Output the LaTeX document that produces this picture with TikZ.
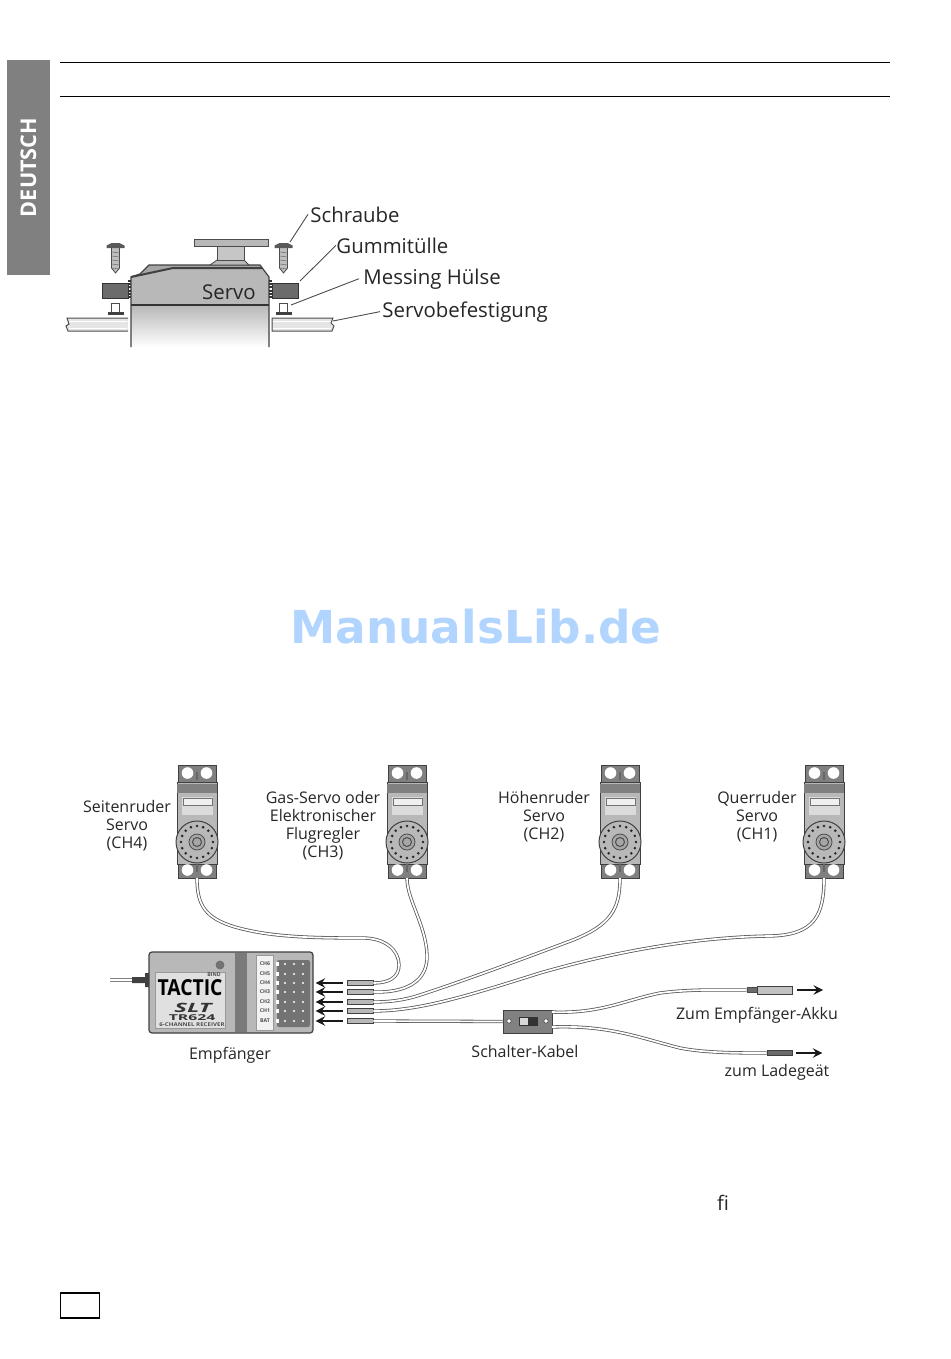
\documentclass[tikz,border=0pt]{standalone}
\usepackage{fontspec}
\setmainfont{Open Sans}
\newfontfamily\markfont{DejaVu Sans}
\usetikzlibrary{arrows,calc,positioning}
\definecolor{bodygrey}{gray}{0.72}
\definecolor{darkgrey}{gray}{0.42}
\definecolor{inkgrey}{gray}{0.15}
\tikzset{%
cablewire/.style={draw=black!65,double=white,double distance=0.85pt,line width=0.4pt},
leader/.style={draw=black!70,line width=0.45pt},
callout/.style={text=inkgrey,font=\fontsize{10.2}{12}\selectfont,inner sep=0pt},
partlabel/.style={text=inkgrey,font=\fontsize{8}{9}\selectfont,inner sep=0pt,align=center},
plugbox/.style={draw=black!75,fill=bodygrey,line width=0.45pt,minimum width=13pt,minimum height=2.9pt,inner sep=0pt},
sigarrow/.style={-stealth,line width=1.1pt,black!90},
tinytext/.style={font=\fontsize{2.6}{3}\selectfont\bfseries,text=black!70,inner sep=0pt}
}
\begin{document}
\begin{tikzpicture}[x=0.5pt,y=-0.5pt]
\useasboundingbox (0,0) rectangle (950,1359);

% page frame
\draw[line width=0.4pt] (60,62) -- (890,62);
\draw[line width=0.4pt] (60,96) -- (890,96);
\node[fill=black!50,minimum width=21.5pt,minimum height=107.5pt,inner sep=0pt] (band) at (28.5,167.5) {};
\node[rotate=90,white,font=\fontsize{10.8}{12}\selectfont\bfseries,inner sep=0pt] (lang) at (band.center) {DEUTSCH};
\node[draw,line width=0.6pt,minimum width=19.5pt,minimum height=12.5pt,inner sep=0pt] (pagebox) at (80,1305.5) {};
\node[text=inkgrey,font=\fontsize{10}{12}\selectfont,inner sep=0pt] (ligature) at (723,1203) {ﬁ};
\node[text=blue!55!cyan!30,font=\markfont\fontsize{22.7}{26}\selectfont\bfseries,inner sep=0pt] (watermark) at (476,627) {ManualsLib.de};

% mounting detail
\fill[top color=bodygrey,bottom color=white] (131,305) rectangle (269,347);
\fill[bodygrey] (131,305) -- (131,277) -- (140,274) -- (149,265) -- (260,265) -- (269,277) -- (269,305) -- cycle;
\fill[black!35] (149,265) -- (260,265) -- (262,268) -- (173,268) -- (141,276) -- cycle;
\draw[black!75,line width=0.6pt] (131,347) -- (131,277) -- (140,274) -- (149,265) -- (260,265) -- (269,277) -- (269,347);
\draw[black!75,line width=1pt] (131,277) -- (173,268) -- (262,268);
\draw[black!80,line width=1pt] (131,305) -- (269,305);
\filldraw[draw=black!70,fill=bodygrey,line width=0.4pt] (210,265) -- (217,260) -- (244,260) -- (249,265) -- cycle;
\filldraw[draw=black!70,fill=bodygrey!80,line width=0.4pt] (217,246) rectangle (244,260);
\filldraw[draw=black!70,fill=bodygrey,line width=0.5pt] (194,239) rectangle (268,246);
\foreach \xx/\ww in {102/128,272/298}{
  \filldraw[draw=black!80,fill=darkgrey,line width=0.5pt] (\xx,283) rectangle (\ww,298);
}
\draw[black!80,line width=1.2pt,dash pattern=on 1pt off 0.6pt] (129.5,280) -- (129.5,298);
\draw[black!80,line width=1.2pt,dash pattern=on 1pt off 0.6pt] (270.5,280) -- (270.5,298);
\foreach \xx in {115.5,283.5}{
  \filldraw[draw=black!70,fill=white,line width=0.5pt] (\xx-4,312) -- (\xx-4,303) -- (\xx+4,303) -- (\xx+4,312);
  \fill[black!75] (\xx-8,312) rectangle (\xx+8,315);
  \filldraw[draw=black!70,fill=black!25,line width=0.4pt] (\xx-4,247) -- (\xx+4,247) -- (\xx+4,268) -- (\xx,273) -- (\xx-4,268) -- cycle;
  \foreach \ty in {252,256,...,268}{
    \draw[black!55,line width=0.3pt] (\xx-4,\ty) -- (\xx+4,\ty+1);
  }
  \fill[black!65] (\xx-9,245.5) -- (\xx-4,243) -- (\xx+4,243) -- (\xx+9,245.5) -- (\xx+9,248) -- (\xx-9,248) -- cycle;
}
\filldraw[draw=black!70,fill=black!10,line width=0.5pt] (128,318) -- (67,318) -- (69,324) -- (66,326) -- (68,331) -- (128,331);
\filldraw[draw=black!70,fill=black!10,line width=0.5pt] (272,318) -- (333,318) -- (331,323) -- (334,326) -- (332,331) -- (272,331) -- cycle;
\draw[white,line width=0.5pt] (69,321) -- (127,321) (69,328) -- (127,328) (273,321) -- (331,321) (273,328) -- (331,328);
\coordinate (screwtip) at (290,242);
\coordinate (grommet) at (300,281);
\coordinate (sleeve) at (291,305);
\coordinate (plate) at (333,321);
\node[text=inkgrey,font=\fontsize{10.2}{12}\selectfont,inner sep=0pt] (servotop) at (229,292) {Servo};
\node[callout,anchor=base west] (schraube) at (310,222) {Schraube};
\node[callout,anchor=base west] (gummi) at (336,253) {Gummitülle};
\node[callout,anchor=base west] (messing) at (363,284) {Messing Hülse};
\node[callout,anchor=base west] (befest) at (382,317) {Servobefestigung};
\draw[leader] ([xshift=-1pt]schraube.west) -- (screwtip);
\draw[leader] (gummi.west) -- (grommet);
\draw[leader] ([xshift=-2pt]messing.west) -- (sleeve);
\draw[leader] ([xshift=-1pt]befest.west) -- (plate);

% servos
\foreach \nm/\xx in {servofour/197,servothree/407,servotwo/620,servoone/824}{
\begin{scope}[shift={(\xx,822)}]
  \filldraw[draw=black!75,fill=black!50,line width=0.5pt] (-19,-57) rectangle (19,-40);
  \filldraw[draw=black!75,fill=black!50,line width=0.5pt] (-19,40) rectangle (19,56);
  \filldraw[draw=black!75,fill=bodygrey,line width=0.5pt] (-20,-40) rectangle (20,42);
  \fill[black!50] (-20,-38) rectangle (20,-29);
  \fill[black!14] (-15,-25) rectangle (16,-7);
  \filldraw[draw=black!55,fill=black!6,line width=0.3pt] (-14,-24) rectangle (15,-17);
  \foreach \sx in {-9.5,9.5}{
    \fill[white] (\sx,-49) circle (5.8);
    \fill[white] (\sx,48) circle (5.8);
  }
  \fill[black!60] (-1,-50) rectangle (1,-42);
  \fill[black!60] (-1,42) rectangle (1,50);
  \filldraw[draw=black!75,fill=bodygrey,line width=0.5pt] (0,20) circle (21);
  \foreach \aa in {0,22.5,...,337.5}{
    \fill[black!85] ($(0,20)+(\aa:16)$) circle (1.4);
  }
  \filldraw[draw=black!70,fill=black!35,line width=0.4pt] (0,20) circle (8);
  \draw[black!70,line width=0.5pt] (0,20) circle (4.5);
  \coordinate (\nm) at (0,56);
\end{scope}
}
\node[partlabel] (lblfour) at (127,826) {Seitenruder\\Servo\\(CH4)};
\node[partlabel] (lblthree) at (323,826) {Gas-Servo oder\\Elektronischer\\Flugregler\\(CH3)};
\node[partlabel] (lbltwo) at (544,817) {Höhenruder\\Servo\\(CH2)};
\node[partlabel] (lblone) at (757,816.5) {Querruder\\Servo\\(CH1)};

% receiver
\draw[line width=2pt,black!50] (110,980) -- (132,980);
\draw[line width=0.7pt,white] (110,980) -- (132,980);
\fill[black!75] (132,977) -- (145,977) -- (145,973) -- (149,973) -- (149,987) -- (145,987) -- (145,983) -- (132,983) -- cycle;
\node[draw=black!75,fill=bodygrey,line width=0.6pt,rounded corners=1.5pt,minimum width=82pt,minimum height=40.5pt,inner sep=0pt] (receiver) at (231,992.5) {};
\fill[darkgrey!90] (235,953) rectangle (247,1032);
\filldraw[draw=black!40,fill=black!5,line width=0.3pt] (256,955) rectangle (273,1030);
\filldraw[draw=none,fill=black!55,rounded corners=1pt] (277,960) rectangle (310,1027);
\filldraw[draw=black!40,fill=black!12,line width=0.3pt] (155,972) rectangle (225,1028);
\filldraw[draw=black!60,fill=black!55,line width=0.3pt] (220,965) circle (4);
\node[tinytext] (bindtxt) at (214,975) {BIND};
\node[font=\fontsize{10.5}{12}\selectfont\bfseries,inner sep=0pt] (tactic) at (190,988) {\scalebox{.92}[1.05]{TACTIC}};
\node[font=\fontsize{8}{9}\selectfont\bfseries\itshape,inner sep=0pt,black!80] (slt) at (193,1008) {\scalebox{1.5}[.8]{SLT}};
\node[font=\fontsize{4.5}{5}\selectfont\bfseries,inner sep=0pt,black!80] (model) at (192,1018) {\scalebox{1.75}[.9]{TR624}};
\node[tinytext] (chan) at (192,1025) {\scalebox{1.18}[1]{6-CHANNEL RECEIVER}};
\foreach \chname/\yy in {CH6/964,CH5/974,CH4/983,CH3/992,CH2/1002,CH1/1011,BAT/1021}{
  \node[tinytext] at (265,\yy) {\chname};
  \fill[white] (276,\yy-2.5) rectangle (279,\yy+2);
  \foreach \xx in {285,294,303}{
    \fill[white] (\xx,\yy) circle (1.1);
  }
}

% plugs and wires
\foreach \nm/\yy in {plugfour/983,plugthree/992,plugtwo/1002,plugone/1011,plugbat/1021}{
  \node[plugbox] (\nm) at (360,\yy) {};
  \draw[sigarrow] ([xshift=-2pt]\nm.west) -- +(-27,0);
}
\node[draw=black!75,fill=darkgrey!85,line width=0.5pt,minimum width=24.5pt,minimum height=11.5pt,inner sep=0pt] (switch) at (527.5,1021.5) {};
\filldraw[draw=black!70,fill=white,line width=0.3pt] (509,1021) circle (2.2);
\filldraw[draw=black!70,fill=white,line width=0.3pt] (546,1021) circle (2.2);
\filldraw[draw=black!80,fill=black!15,line width=0.4pt] (519,1017) rectangle (537,1025);
\fill[black!80] (528,1017) rectangle (537,1025);
\draw[cablewire] (servofour) .. controls (197,905) and (205,918) .. (235,927) .. controls (270,937) and (310,938) .. (363,938) .. controls (385,938) and (399,950) .. (399,965) .. controls (399,978) and (388,983) .. (plugfour.east);
\draw[cablewire] (servothree) .. controls (407,900) and (426,925) .. (427,955) .. controls (428,982) and (405,993) .. (plugthree.east);
\draw[cablewire] (servotwo) .. controls (620,910) and (610,925) .. (573,940) .. controls (520,960) and (460,982) .. (420,995) .. controls (405,1000) and (390,1002) .. (plugtwo.east);
\draw[cablewire] (servoone) .. controls (824,915) and (815,935) .. (770,936) .. controls (700,937) and (620,950) .. (540,973) .. controls (470,995) and (420,1011) .. (plugone.east);
\draw[cablewire] (plugbat.east) -- (switch.west);
\node[draw=black!70,fill=darkgrey,line width=0.3pt,minimum width=5pt,minimum height=2.6pt,inner sep=0pt] (akkutip) at (752,990) {};
\node[draw=black!75,fill=bodygrey!85,line width=0.4pt,minimum width=17.5pt,minimum height=4pt,inner sep=0pt,right=0pt of akkutip] (akkuplug) {};
\node[plugbox,minimum width=12.5pt,minimum height=2.2pt,fill=darkgrey] (ladeplug) at (779.5,1053) {};
\coordinate (swupper) at (552,1012);
\coordinate (swlower) at (552,1027);
\draw[cablewire] (swupper) .. controls (600,1014) and (625,1000) .. (660,993) .. controls (690,989) and (720,990) .. (akkutip.west);
\draw[cablewire] (swlower) .. controls (610,1025) and (640,1038) .. (680,1048) .. controls (705,1053) and (740,1053) .. (ladeplug.west);
\draw[sigarrow] ([xshift=2pt]akkuplug.east) -- +(26,0);
\draw[sigarrow] ([xshift=2pt]ladeplug.east) -- +(26,0);
\node[partlabel] (lblreceiver) at (230,1055) {Empfänger};
\node[partlabel] (lblswitch) at (525,1051) {Schalter-Kabel};
\node[partlabel] (lblakku) at (757,1015) {Zum Empfänger-Akku};
\node[partlabel] (lbllade) at (777,1072) {zum Ladegeät};
\end{tikzpicture}
\end{document}
